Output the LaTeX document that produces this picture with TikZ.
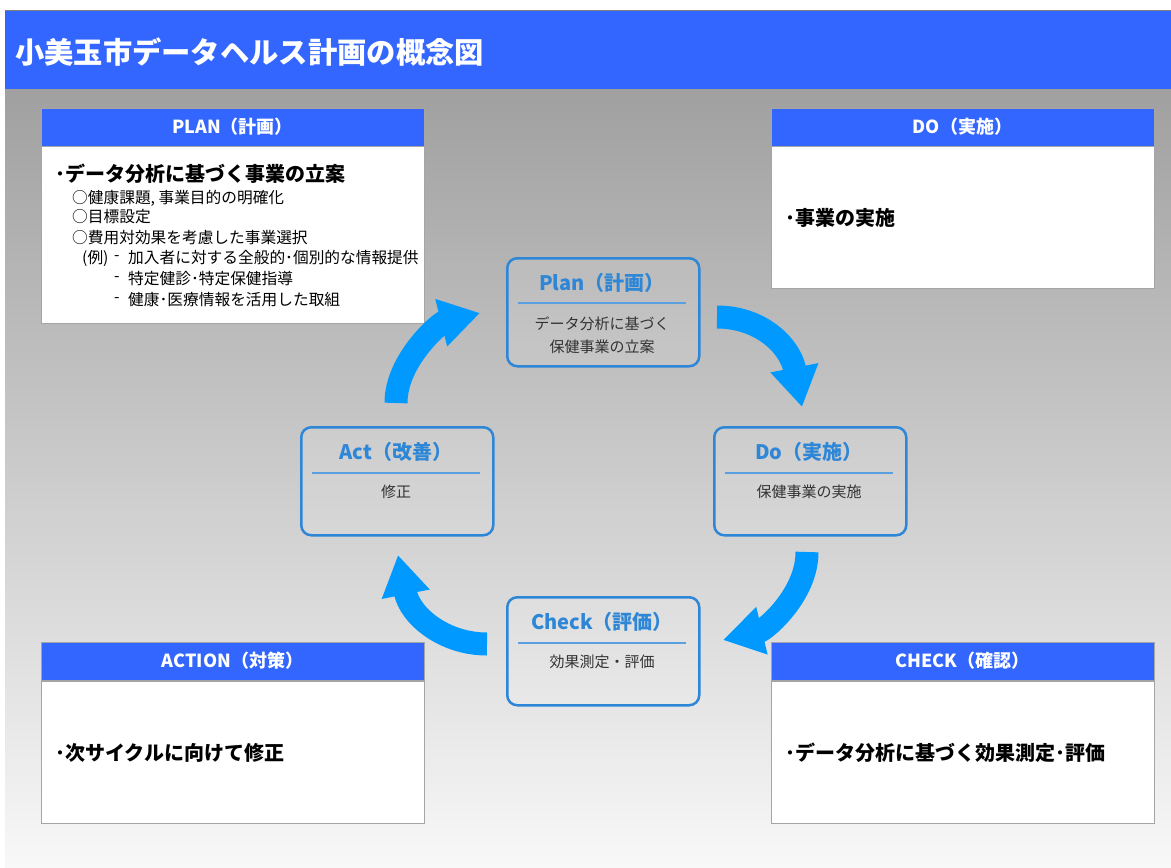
\documentclass[tikz,border=0pt]{standalone}
\usepackage{fontspec}
\setmainfont{Noto Sans CJK JP}
\usetikzlibrary{arrows.meta}
\definecolor{hblue}{RGB}{51,102,255}
\definecolor{arrowblue}{RGB}{0,153,255}
\definecolor{cbblue}{RGB}{46,134,214}
\definecolor{seplineblue}{RGB}{90,160,225}
\definecolor{pgray}{RGB}{165,165,165}
\definecolor{txtgray}{RGB}{51,51,51}
\definecolor{bgtop}{RGB}{160,160,160}
\definecolor{bgbot}{RGB}{248,248,248}
\newcommand\fsz[1]{\fontsize{#1}{#1}\selectfont}
\begin{document}
\begin{tikzpicture}[x=1pt,y=-1pt,
  panel/.style={draw=pgray, line width=1pt, fill=white, anchor=north west, inner sep=0pt, outer sep=0pt, minimum width=383pt},
  phead/.style={draw=pgray, line width=1pt, fill=hblue, anchor=north west, inner sep=0pt, outer sep=0pt, minimum width=383pt, minimum height=38pt, text=white, font=\bfseries\fsz{18}},
  ptext/.style={anchor=west, inner sep=0pt, text=black},
  bullet/.style={ptext, font=\bfseries\fsz{20}},
  sub/.style={ptext, font=\fsz{15.7}},
  cbox/.style={draw=cbblue, line width=2.5pt, rounded corners=10pt, fill=white, fill opacity=0.12, anchor=north west, inner sep=0pt, minimum width=192pt, minimum height=108pt},
  ctitle/.style={inner sep=0pt, text=cbblue, font=\bfseries\fsz{20}},
  cbody/.style={inner sep=0pt, text=txtgray, font=\fsz{15}, align=center},
  sepline/.style={draw=seplineblue, line width=1.5pt},
  arr/.style={draw=arrowblue, line width=23pt, -{Triangle[length=40pt,width=46pt]}}
]
\useasboundingbox (0,0) rectangle (1171,868);
\fill[white] (0,0) rectangle (1171,868);
% background
\shade[top color=bgtop, bottom color=bgbot] (5,89) rectangle (1171,868);
% title bar
\fill[hblue] (5,10) rectangle (1171,89);
\draw[gray, line width=1pt] (5,10) -- (1171,10);
\node[anchor=west, inner sep=0pt, text=white, font=\bfseries\fsz{29.3}] (title) at (15,52) {小美玉市データヘルス計画の概念図};

% PLAN panel
\node[panel, minimum height=177pt] (planbody) at (41,146) {};
\node[phead] (planhead) at (41,108) {PLAN（計画）};
\node[bullet] (planb) at (55,174) {･データ分析に基づく事業の立案};
\node[sub] (plan1) at (72,198) {○健康課題, 事業目的の明確化};
\node[sub] (plan2) at (72,217) {○目標設定};
\node[sub] (plan3) at (72,238) {○費用対効果を考慮した事業選択};
\node[sub] (planex) at (82,258) {(例)};
\node[sub] (pd1) at (114,258) {-};
\node[sub] (pe1) at (128,258) {加入者に対する全般的･個別的な情報提供};
\node[sub] (pd2) at (114,279) {-};
\node[sub] (pe2) at (128,279) {特定健診･特定保健指導};
\node[sub] (pd3) at (114,300) {-};
\node[sub] (pe3) at (128,300) {健康･医療情報を活用した取組};

% DO panel
\node[panel, minimum height=142pt] (dobody) at (771,146) {};
\node[phead] (dohead) at (771,108) {DO（実施）};
\node[bullet] (dob) at (785,218) {･事業の実施};

% ACTION panel
\node[panel, minimum height=142pt] (actbody) at (41,681) {};
\node[phead] (acthead) at (41,642) {ACTION（対策）};
\node[bullet] (actb) at (55,753) {･次サイクルに向けて修正};

% CHECK panel
\node[panel, minimum height=142pt] (chkbody) at (771,681) {};
\node[phead] (chkhead) at (771,642) {CHECK（確認）};
\node[bullet] (chkb) at (785,753) {･データ分析に基づく効果測定･評価};

% center cycle boxes
\node[cbox] (cplan) at (506,257) {};
\node[ctitle] (cplant) at (602,283) {Plan（計画）};
\draw[sepline] (518,303) -- (686,303);
\node[cbody, font={\fontsize{15}{23}\selectfont}] (cplanb) at (602,335) {データ分析に基づく\\保健事業の立案};

\node[cbox] (cact) at (300,426) {};
\node[ctitle] (cactt) at (396,452) {Act（改善）};
\draw[sepline] (312,473) -- (480,473);
\node[cbody] (cactb) at (396,492) {修正};

\node[cbox] (cdo) at (713,426) {};
\node[ctitle] (cdot) at (809,452) {Do（実施）};
\draw[sepline] (725,473) -- (893,473);
\node[cbody] (cdob) at (809,492) {保健事業の実施};

\node[cbox] (cchk) at (506,596) {};
\node[ctitle] (cchkt) at (602,622) {Check（評価）};
\draw[sepline] (518,643) -- (686,643);
\node[cbody] (cchkb) at (602,662) {効果測定・評価};

% cycle arrows
\coordinate (a1s) at (717,317); \coordinate (a1e) at (802,407);
\coordinate (a2s) at (807,552); \coordinate (a2e) at (723,640);
\coordinate (a3s) at (487,644); \coordinate (a3e) at (398,555);
\coordinate (a4s) at (396,403); \coordinate (a4e) at (480,313);
\draw[arr] (a1s) .. controls (760,317) and (790,345) .. (a1e);
\draw[arr] (a2s) .. controls (807,595) and (765,630) .. (a2e);
\draw[arr] (a3s) .. controls (444,644) and (410,616) .. (a3e);
\draw[arr] (a4s) .. controls (396,360) and (440,323) .. (a4e);
\end{tikzpicture}
\end{document}
